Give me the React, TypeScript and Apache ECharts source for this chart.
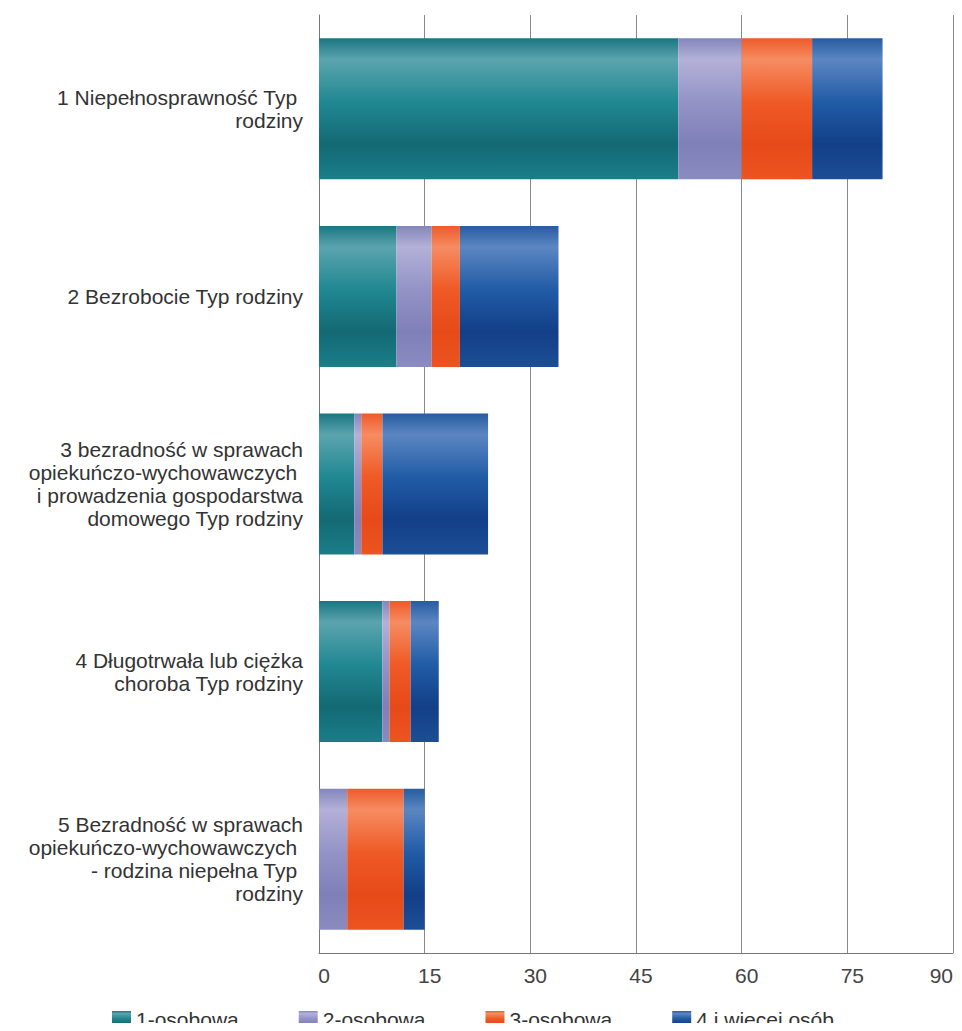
import React, { useEffect, useRef } from "react";
import * as echarts from "echarts";

const categories = [
  "1 Niepełnosprawność Typ \nrodziny",
  "2 Bezrobocie Typ rodziny",
  "3 bezradność w sprawach\nopiekuńczo-wychowawczych \ni prowadzenia gospodarstwa\ndomowego Typ rodziny",
  "4 Długotrwała lub ciężka\nchoroba Typ rodziny",
  "5 Bezradność w sprawach\nopiekuńczo-wychowawczych \n- rodzina niepełna Typ \nrodziny",
];
const seriesNames = ["1-osobowa", "2-osobowa", "3-osobowa", "4 i więcej osób"];
const osoba1 = [51, 11, 5, 9, 0];
const osoba2 = [9, 5, 1, 1, 4];
const osoba3 = [10, 4, 3, 3, 8];
const osoba4 = [10, 14, 15, 4, 3];
const xTicks = { min: 0, max: 90, interval: 15 };

const palettes = [
  ["#1a7682", "#5ba4ae", "#218892", "#136974", "#1a7e89"],
  ["#8486bc", "#b3b1d8", "#9393c6", "#7f80b8", "#8a8bc0"],
  ["#ee5a2a", "#f68c62", "#ef5a26", "#e64a18", "#ec5420"],
  ["#275c9f", "#5c86c2", "#215ca6", "#123f88", "#1d4e95"],
];

function grad(p: string[]) {
  return new echarts.graphic.LinearGradient(0, 0, 0, 1, [
    { offset: 0, color: p[0] },
    { offset: 0.15, color: p[1] },
    { offset: 0.45, color: p[2] },
    { offset: 0.75, color: p[3] },
    { offset: 1, color: p[4] },
  ]);
}

export default function App() {
  const ref = useRef<HTMLDivElement>(null);
  useEffect(() => {
    if (!ref.current) return;
    const chart = echarts.init(ref.current, undefined, { renderer: "svg" });
    const data = [osoba1, osoba2, osoba3, osoba4];
    const font = "Liberation Sans";
    chart.setOption({
      animation: false,
      textStyle: { fontFamily: font },
      grid: { left: 319, right: 9, top: 15, bottom: 78, outerBoundsMode: "none", containLabel: false },
      legend: {
        top: 1004,
        left: 107,
        itemWidth: 19,
        itemHeight: 17,
        itemGap: 60,
        icon: "rect",
        textStyle: { fontSize: 21, color: "#333", fontFamily: font },
        data: seriesNames,
      },
      xAxis: {
        type: "value",
        min: xTicks.min,
        max: xTicks.max,
        interval: xTicks.interval,
        axisLine: { show: true, lineStyle: { color: "#777", width: 1 } },
        axisTick: { show: false },
        splitLine: { show: true, lineStyle: { color: "#888", width: 1 } },
        axisLabel: {
          fontSize: 21,
          color: "#444",
          margin: 12,
          fontFamily: font,
          padding: [0, 0, 0, 10],
          alignMaxLabel: "right",
        },
      },
      yAxis: {
        type: "category",
        inverse: true,
        data: categories,
        axisLine: { show: true, lineStyle: { color: "#777", width: 1 } },
        axisTick: { show: false },
        axisLabel: {
          fontSize: 21,
          lineHeight: 23,
          color: "#333",
          align: "right",
          margin: 16,
          fontFamily: font,
        },
      },
      series: seriesNames.map((name, i) => ({
        name,
        type: "bar",
        stack: "total",
        barWidth: 141,
        data: data[i],
        itemStyle: { color: grad(palettes[i]) },
      })),
    });
    return () => chart.dispose();
  }, []);
  return <div ref={ref} style={{ width: 962, height: 1031, margin: -8 }} />;
}
